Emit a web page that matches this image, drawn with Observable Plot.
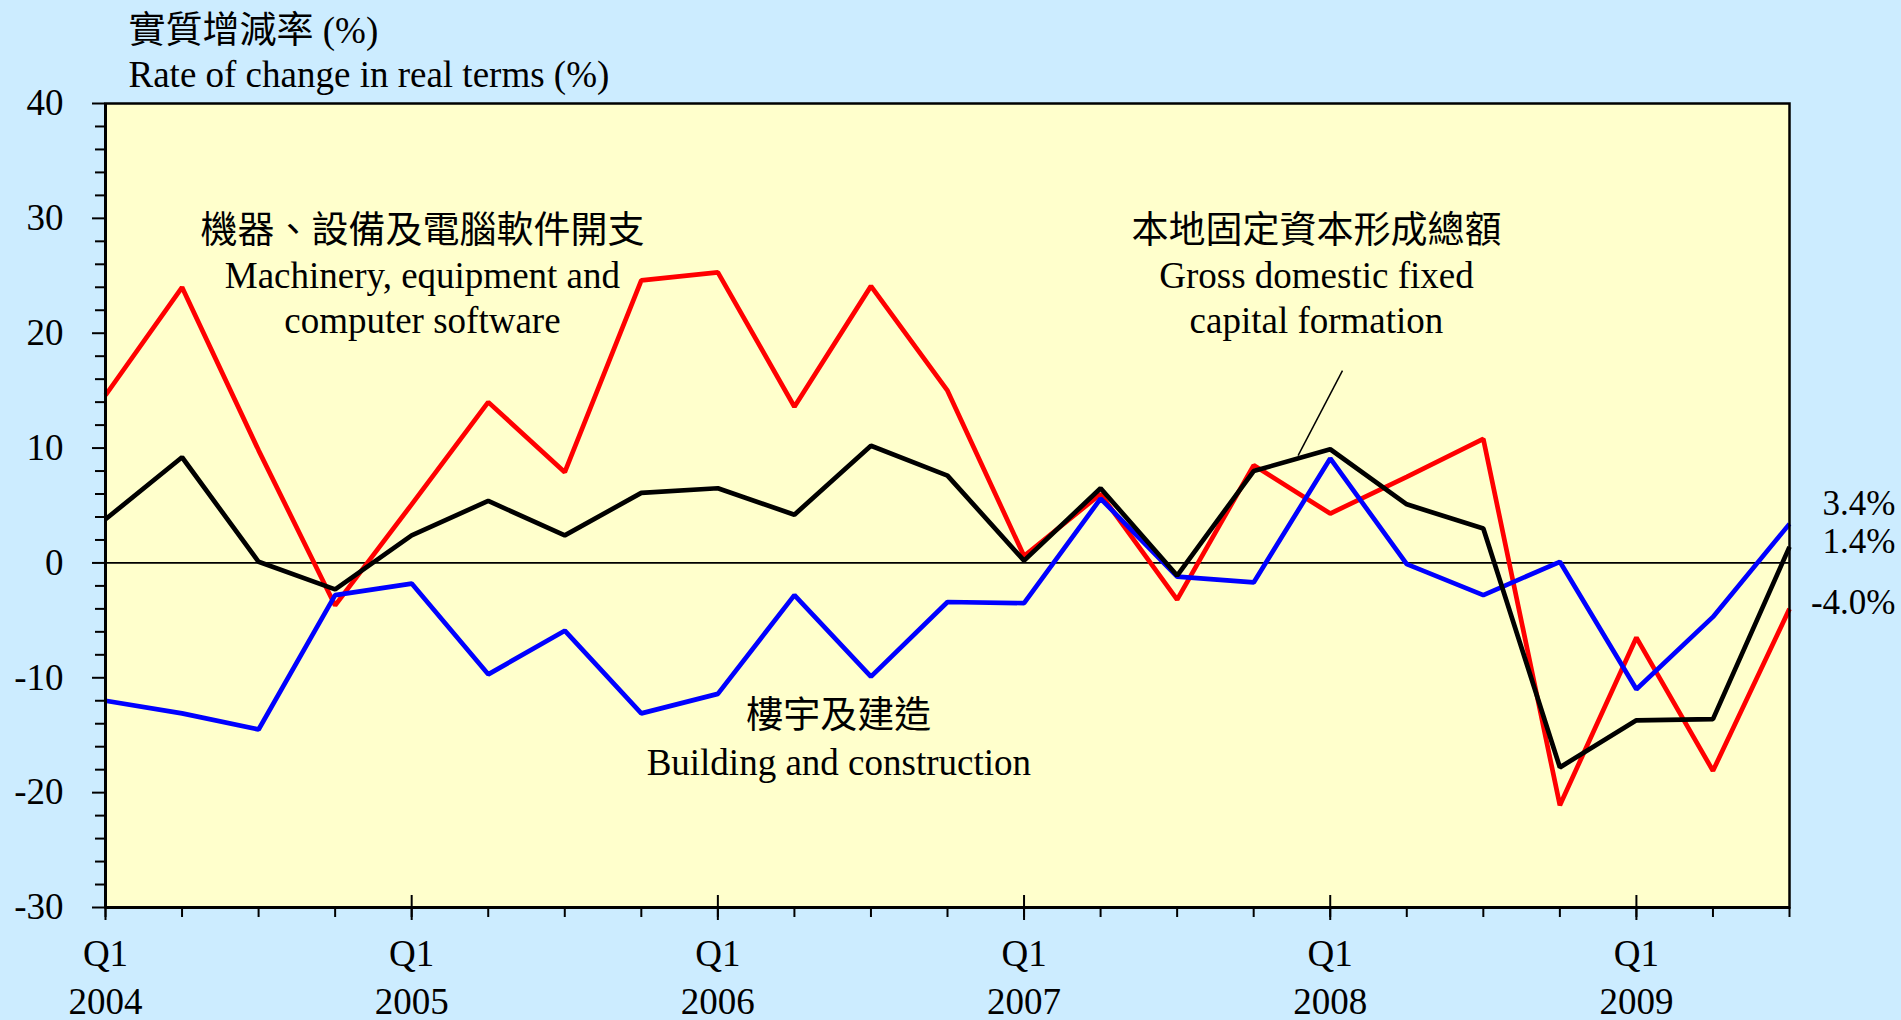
<!DOCTYPE html>
<html>
<head>
<meta charset="utf-8">
<script src="https://cdn.jsdelivr.net/npm/d3@7"></script>
<script src="https://cdn.jsdelivr.net/npm/@observablehq/plot@0.6"></script>
<style>
  html, body { margin: 0; padding: 0; background: #CCECFF; overflow: hidden; }
  #chart { width: 1901px; height: 1020px; }
</style>
</head>
<body>
<div id="chart"></div>
<script>
// ---------- data ----------
const quarters = ["2004Q1","2004Q2","2004Q3","2004Q4","2005Q1","2005Q2","2005Q3","2005Q4",
  "2006Q1","2006Q2","2006Q3","2006Q4","2007Q1","2007Q2","2007Q3","2007Q4",
  "2008Q1","2008Q2","2008Q3","2008Q4","2009Q1","2009Q2","2009Q3"];
const machinery = [14.6, 24.0, 9.8, -3.7, 5.1, 14.0, 7.9, 24.6, 25.3, 13.6, 24.1, 15.0,
  0.6, 6.0, -3.2, 8.5, 4.3, 7.5, 10.8, -21.1, -6.5, -18.1, -4.0];
const building = [-12.0, -13.1, -14.5, -2.8, -1.8, -9.7, -5.9, -13.1, -11.4, -2.8, -9.9, -3.4,
  -3.5, 5.6, -1.2, -1.7, 9.1, -0.1, -2.8, 0.1, -11.0, -4.7, 3.4];
const gdfcf = [3.8, 9.2, 0.1, -2.3, 2.4, 5.4, 2.4, 6.1, 6.5, 4.2, 10.2, 7.6,
  0.2, 6.5, -1.1, 8.0, 9.9, 5.1, 3.0, -17.8, -13.7, -13.6, 1.4];
const yearLabels = ["2004","2005","2006","2007","2008","2009"];
const quarterTickLabel = "Q1";
const yMajorTicks = [-30, -20, -10, 0, 10, 20, 30, 40];
const titleLines = ["實質增減率 (%)", "Rate of change in real terms (%)"];
const labelMachinery = "機器、設備及電腦軟件開支\nMachinery, equipment and\ncomputer software";
const labelGdfcf = "本地固定資本形成總額\nGross domestic fixed\ncapital formation";
const labelBuilding = "樓宇及建造\nBuilding and construction";
const endLabels = ["3.4%", "1.4%", "-4.0%"];
const endValues = [3.4, 1.4, -4.0];

// ---------- derived ----------
const idx = quarters.map((q, i) => i);
const q1idx = idx.filter(i => quarters[i].endsWith("Q1"));
const yMinor = d3.range(-30, 41, 2).filter(v => v % 10 !== 0);
const rows = (vals) => vals.map((v, i) => ({i, v}));

const FONT = "'Liberation Serif', 'Times New Roman', 'Noto Sans CJK TC', serif";
const W = 1901, H = 1020, ML = 105, MR = 112, MT = 103, MB = 113;
const frameH = H - MT - MB;

// annotation anchors (data space)
const annMach = [{x: 4.14, y: 25.2, t: labelMachinery}];
const annGd = [{x: 15.82, y: 25.2, t: labelGdfcf}];
const annBld = [{x: 9.58, y: -15.15, t: labelBuilding}];
const leader = [{x1: 16.16, y1: 16.75, x2: 15.58, y2: 9.35}];
const endOffsets = [-19.6, -4.6, -6.3];

const lineOpts = {x: "i", y: "v", strokeWidth: 4.7, strokeLinejoin: "miter", strokeLinecap: "butt"};

const chart = Plot.plot({
  width: W, height: H,
  marginLeft: ML, marginRight: MR, marginTop: MT, marginBottom: MB,
  x: {domain: [0, quarters.length - 1], axis: null},
  y: {domain: [-30, 40], axis: null},
  style: {background: "#CCECFF", fontFamily: FONT, fontSize: "37px", color: "black", overflow: "visible"},
  marks: [
    Plot.frame({fill: "#FFFFCC", stroke: null}),
    Plot.ruleY([0], {stroke: "black", strokeWidth: 1.8}),
    // series
    Plot.line(rows(machinery), {...lineOpts, stroke: "#FF0000"}),
    Plot.line(rows(building), {...lineOpts, stroke: "#0000FF"}),
    Plot.line(rows(gdfcf), {...lineOpts, stroke: "#000000"}),
    // frame & axis lines
    Plot.frame({stroke: "black", strokeWidth: 2.5}),
    Plot.ruleX([0], {stroke: "black", strokeWidth: 3}),
    Plot.ruleY([-30], {stroke: "black", strokeWidth: 3}),
    // y axis
    Plot.axisY(yMajorTicks, {tickSize: 13, tickPadding: 29, strokeWidth: 2, tickFormat: d => String(d), fontSize: 37, label: null}),
    Plot.axisY(yMinor, {tickSize: 10, strokeWidth: 2, tickFormat: () => "", label: null}),
    // x axis ticks
    Plot.axisX(idx, {tickSize: 10, strokeWidth: 2, tickFormat: () => "", label: null}),
    Plot.axisX(q1idx, {tickSize: 13, strokeWidth: 2, tickFormat: () => "", label: null}),
    Plot.tickX(q1idx, {x: d => d, insetTop: frameH - 12, stroke: "black", strokeWidth: 2}),
    Plot.text(q1idx, {x: d => d, text: () => quarterTickLabel, frameAnchor: "bottom", lineAnchor: "middle", dy: 47, fontSize: 37}),
    Plot.text(q1idx, {x: d => d, text: (d, k) => yearLabels[k], frameAnchor: "bottom", lineAnchor: "middle", dy: 95, fontSize: 37}),
    // title
    Plot.text([titleLines[0]], {frameAnchor: "top-left", lineAnchor: "middle", textAnchor: "start", dx: 23, dy: -72, fontSize: 37}),
    Plot.text([titleLines[1]], {frameAnchor: "top-left", lineAnchor: "middle", textAnchor: "start", dx: 23, dy: -28, fontSize: 37}),
    // series labels
    Plot.text(annMach, {x: "x", y: "y", text: "t", fontSize: 37, lineHeight: 1.22}),
    Plot.text(annGd, {x: "x", y: "y", text: "t", fontSize: 37, lineHeight: 1.22}),
    Plot.text(annBld, {x: "x", y: "y", text: "t", fontSize: 37, lineHeight: 1.27}),
    Plot.link(leader, {x1: "x1", y1: "y1", x2: "x2", y2: "y2", stroke: "black", strokeWidth: 1.5}),
    // end labels
    ...endLabels.map((t, k) => Plot.text([{x: quarters.length - 1, y: endValues[k], t}],
      {x: "x", y: "y", text: "t", textAnchor: "end", dx: 106, dy: endOffsets[k], fontSize: 35}))
  ]
});
document.getElementById("chart").appendChild(chart);
</script>
</body>
</html>
